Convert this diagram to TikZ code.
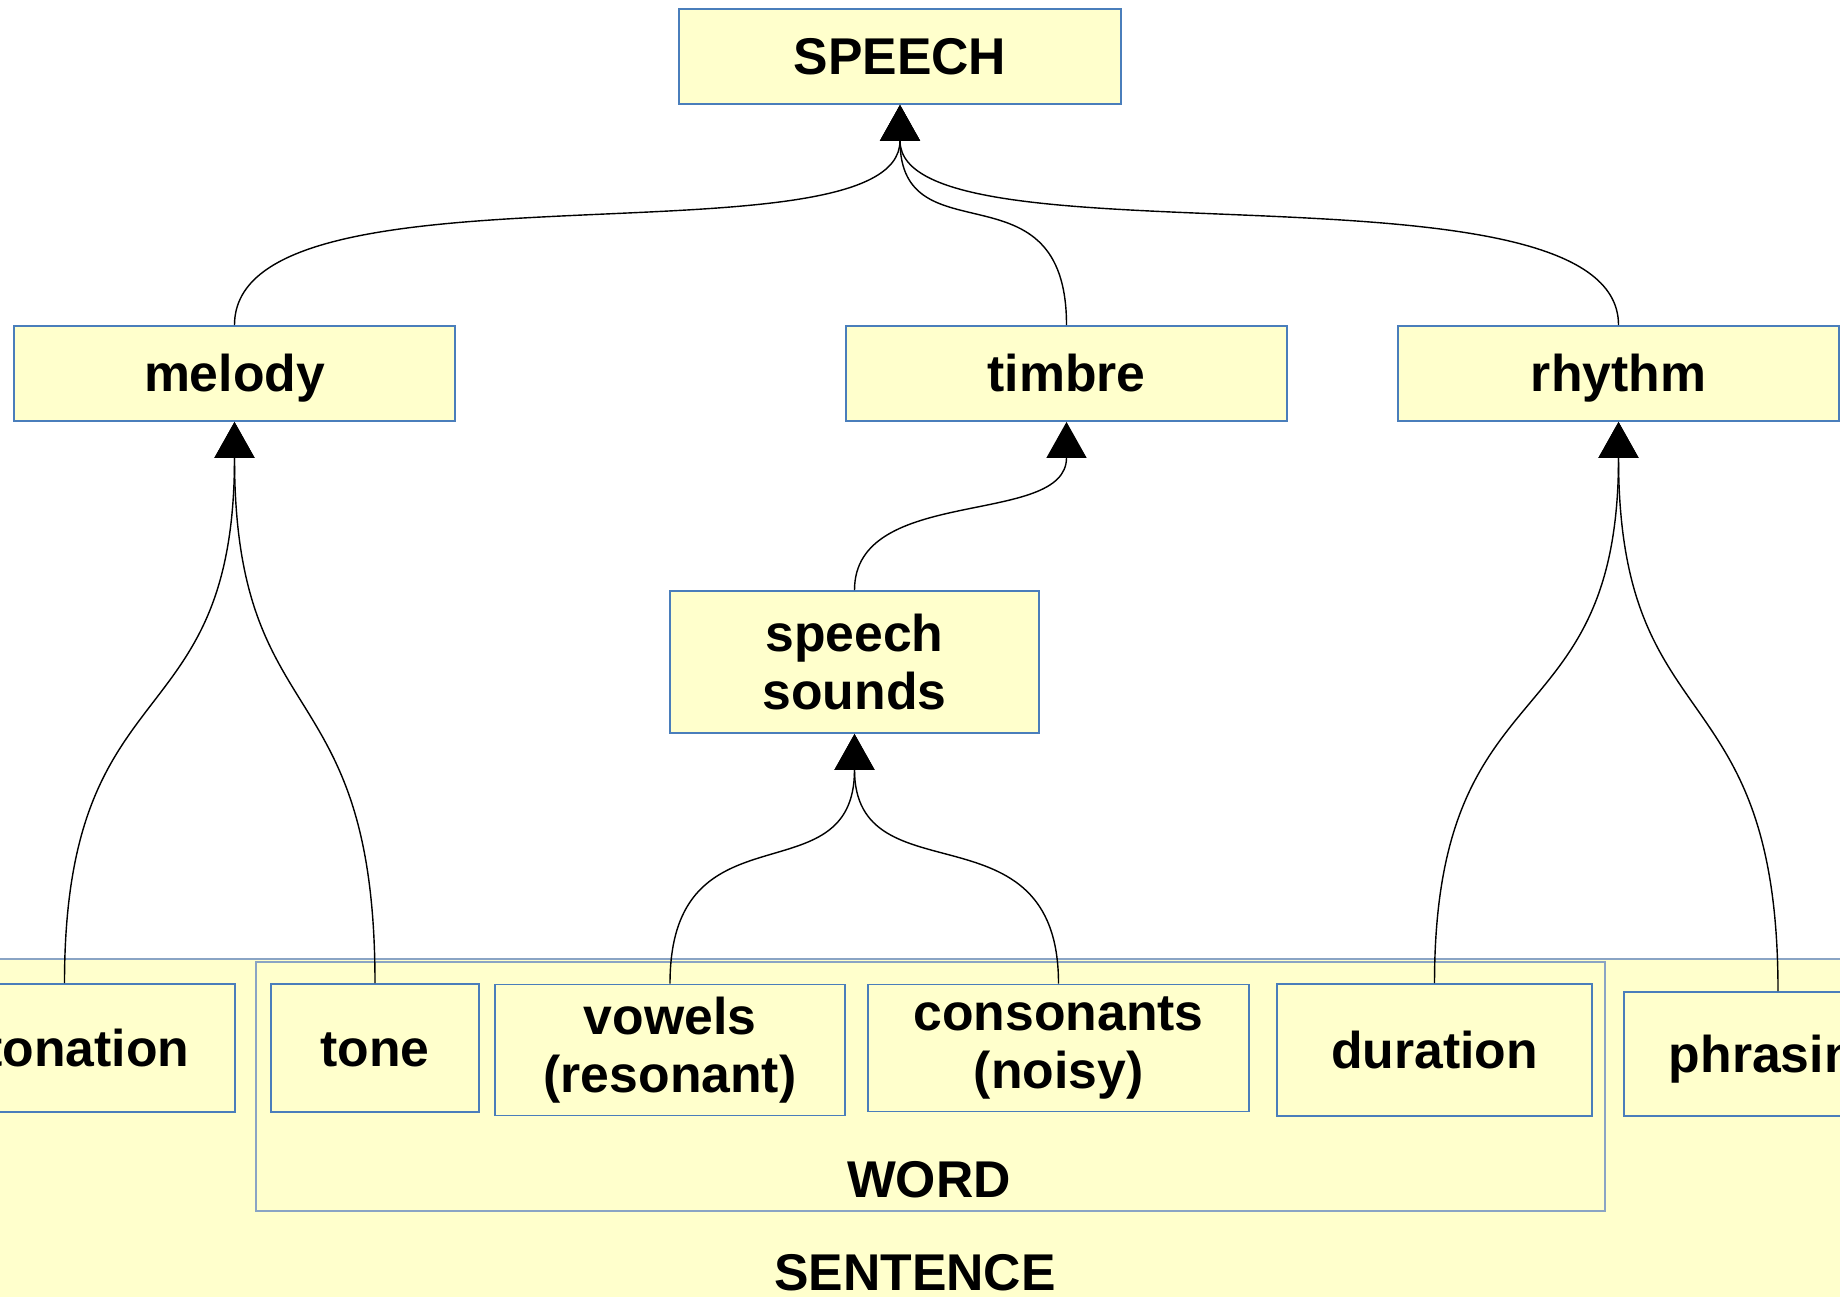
\documentclass[tikz,border=0pt]{standalone}
\usepackage{fontspec}
\setmainfont{Liberation Sans}
\usetikzlibrary{arrows.meta}

\definecolor{boxfill}{HTML}{FFFFCC}
\definecolor{boxline}{HTML}{4A7EBB}
\definecolor{frameline}{HTML}{8AA4C4}

\begin{document}
\begin{tikzpicture}[x=0.01cm,y=-0.01cm,
    box/.style={draw=boxline,fill=boxfill,line width=0.5pt,inner sep=0pt,
      font=\fontsize{14.7}{16.7}\selectfont\bfseries,align=center},
    one/.style={text height=11pt,text depth=0.5pt},
    link/.style={line width=0.4pt,-{Triangle[width=0.4cm,length=0.36cm]}}]
    \clip (0,0) rectangle (1840,1296);
    % frames
    \draw[draw=frameline,fill=boxfill,line width=0.6pt] (-20,959) rectangle (1900,1400);
    \draw[draw=frameline,fill=boxfill,line width=0.6pt] (256,962) rectangle (1605,1211);
    \node[anchor=base,font=\fontsize{14.7}{16.7}\selectfont\bfseries] (word) at (929,1197) {WORD};
    \node[anchor=base,font=\fontsize{14.7}{16.7}\selectfont\bfseries] (sentence) at (915,1290) {SENTENCE};
    % top levels
    \node[box,one,minimum width=4.42cm,minimum height=0.95cm] (speech) at (900,56.5) {SPEECH};
    \node[box,one,minimum width=4.41cm,minimum height=0.95cm] (melody) at (234.5,373.5) {melody};
    \node[box,one,minimum width=4.41cm,minimum height=0.95cm] (timbre) at (1066.5,373.5) {timbre};
    \node[box,one,minimum width=4.41cm,minimum height=0.95cm] (rhythm) at (1618.5,373.5) {rhythm};
    \node[box,minimum width=3.69cm,minimum height=1.42cm] (sounds) at (854.5,662) {speech\\sounds};
    % bottom row
    \node[box,one,minimum width=3.41cm,minimum height=1.28cm] (intonation) at (64.5,1048) {intonation};
    \node[box,one,minimum width=2.08cm,minimum height=1.28cm] (tone) at (375,1048) {tone};
    \node[box,minimum width=3.50cm,minimum height=1.31cm] (vowels) at (670,1050) {vowels\\(resonant)};
    \node[box,minimum width=3.81cm,minimum height=1.27cm] (consonants) at (1058.5,1048) {consonants\\(noisy)};
    \node[box,one,minimum width=3.15cm,minimum height=1.32cm] (duration) at (1434.5,1050) {duration};
    \node[box,one,minimum width=3.08cm,minimum height=1.24cm] (phrasing) at (1778,1054) {phrasing};
    % connectors
    \draw[link] (melody.north) .. controls +(0,-176) and +(0,166) .. (speech.south);
    \draw[link] (timbre.north) .. controls +(0,-166) and +(0,156) .. (speech.south);
    \draw[link] (rhythm.north) .. controls +(0,-176) and +(0,166) .. (speech.south);
    \draw[link] (intonation.north) to[out=90,in=-90,looseness=1.4] (melody.south);
    \draw[link] (tone.north) to[out=90,in=-90,looseness=1.4] (melody.south);
    \draw[link] (sounds.north) to[out=90,in=-90] (timbre.south);
    \draw[link] (vowels.north) .. controls +(0,-184) and +(0,167) .. (sounds.south);
    \draw[link] (consonants.north) .. controls +(0,-184) and +(0,167) .. (sounds.south);
    \draw[link] (duration.north) to[out=90,in=-90,looseness=1.4] (rhythm.south);
    \draw[link] (phrasing.north) to[out=90,in=-90,looseness=1.4] (rhythm.south);
\end{tikzpicture}
\end{document}
